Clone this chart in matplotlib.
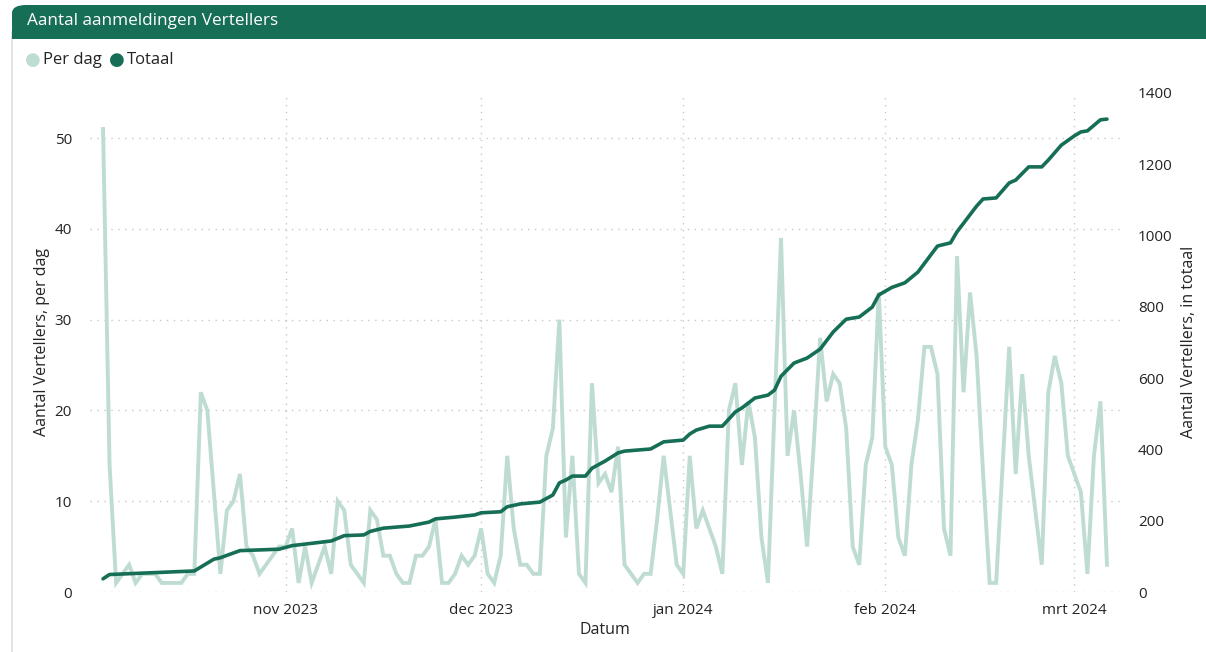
import matplotlib
matplotlib.use("Agg")
import matplotlib.pyplot as plt
import matplotlib.dates as mdates
from matplotlib.patches import FancyBboxPatch, Rectangle
import pandas as pd

plt.rcParams['font.family'] = ['Open Sans', 'DejaVu Sans']

title = "Aantal aanmeldingen Vertellers"
series_names = ["Per dag", "Totaal"]
left_label = "Aantal Vertellers, per dag"
right_label = "Aantal Vertellers, in totaal"
x_label = "Datum"

start_date = "2023-10-04"
per_dag_oct = [51, 14, 1, 2, 3, 1, 2, 2, 2, 1, 1, 1, 1, 2, 2, 22, 20, 11, 2, 9,
               10, 13, 5, 4, 2, 3, 4, 5]
per_dag_nov = [5, 7, 1, 5, 1, 3, 5, 2, 10, 9, 3, 2, 1, 9, 8, 4, 4, 2, 1, 1,
               4, 4, 5, 8, 1, 1, 2, 4, 3, 4]
per_dag_dec = [7, 2, 1, 4, 15, 7, 3, 3, 2, 2, 15, 18, 30, 6, 15, 2, 1, 23, 12, 13,
               11, 16, 3, 2, 1, 2, 2, 8, 15, 9, 3]
per_dag_jan = [2, 15, 7, 9, 7, 5, 2, 20, 23, 14, 21, 17, 6, 1, 20, 39, 15, 20, 13, 5,
               16, 28, 21, 24, 23, 18, 5, 3, 14, 17, 33]
per_dag_feb = [16, 14, 6, 4, 14, 19, 27, 27, 24, 7, 4, 37, 22, 33, 26, 13, 1, 1, 14, 27,
               13, 24, 15, 9, 3, 22, 26, 23, 15]
per_dag_mar = [13, 11, 2, 15, 21, 3]

totaal_dates = ["2023-10-04", "2023-10-05", "2023-10-18", "2023-10-21", "2023-10-22",
                "2023-10-25", "2023-10-31", "2023-11-02", "2023-11-08", "2023-11-10",
                "2023-11-13", "2023-11-14", "2023-11-16", "2023-11-20", "2023-11-23",
                "2023-11-24", "2023-11-27", "2023-11-30", "2023-12-01", "2023-12-04",
                "2023-12-05", "2023-12-07", "2023-12-10", "2023-12-12", "2023-12-13",
                "2023-12-14", "2023-12-15", "2023-12-17", "2023-12-18", "2023-12-20",
                "2023-12-22", "2023-12-23", "2023-12-27", "2023-12-29", "2024-01-01",
                "2024-01-02", "2024-01-03", "2024-01-05", "2024-01-07", "2024-01-09",
                "2024-01-10", "2024-01-12", "2024-01-14", "2024-01-15", "2024-01-16",
                "2024-01-18", "2024-01-20", "2024-01-22", "2024-01-24", "2024-01-26",
                "2024-01-28", "2024-01-30", "2024-01-31", "2024-02-02", "2024-02-04",
                "2024-02-06", "2024-02-09", "2024-02-11", "2024-02-12", "2024-02-15",
                "2024-02-16", "2024-02-18", "2024-02-20", "2024-02-21", "2024-02-23",
                "2024-02-25", "2024-02-26", "2024-02-28", "2024-03-01", "2024-03-02",
                "2024-03-03", "2024-03-05", "2024-03-06"]
totaal_values = [37, 49, 59, 92, 96,
                 116, 120, 130, 143, 158,
                 160, 170, 179, 185, 196,
                 205, 210, 216, 222, 225,
                 239, 247, 252, 272, 306,
                 314, 325, 325, 347, 367,
                 390, 395, 401, 421, 426,
                 443, 454, 465, 465, 505,
                 516, 544, 552, 566, 605,
                 642, 656, 681, 729, 765,
                 771, 799, 833, 854, 867,
                 897, 970, 979, 1010, 1082,
                 1102, 1105, 1147, 1155, 1192,
                 1192, 1211, 1253, 1279, 1290,
                 1293, 1324, 1326]

x_ticks = ["2023-11-01", "2023-12-01", "2024-01-01", "2024-02-01", "2024-03-01"]
x_tick_labels = ["nov 2023", "dec 2023", "jan 2024", "feb 2024", "mrt 2024"]
left_ticks = [0, 10, 20, 30, 40, 50]
right_ticks = [0, 200, 400, 600, 800, 1000, 1200, 1400]

per_dag = per_dag_oct + per_dag_nov + per_dag_dec + per_dag_jan + per_dag_feb + per_dag_mar
days = pd.date_range(start_date, periods=len(per_dag), freq="D")
tot_days = pd.to_datetime(totaal_dates)

C_LIGHT = "#bfdcd3"
C_DARK = "#176e56"
C_TEXT = "#252423"
C_GRID = "#c8c8c8"

W, H = 1206, 652
fig = plt.figure(figsize=(W / 100, H / 100), dpi=100)
fig.patch.set_facecolor("white")

# card border
card = FancyBboxPatch((12 / W, -20 / H), (W + 20) / W, (H - 5) / H,
                      boxstyle="round,pad=0,rounding_size=0.012",
                      transform=fig.transFigure, facecolor="white",
                      edgecolor="#d9d9d9", linewidth=1.0, zorder=-2)
fig.patches.append(card)
header = FancyBboxPatch((12 / W, (H - 39) / H), (W + 20) / W, 34 / H,
                        boxstyle="round,pad=0,rounding_size=0.012",
                        transform=fig.transFigure, facecolor=C_DARK,
                        edgecolor=C_DARK, linewidth=0, zorder=-1)
fig.patches.append(header)
fig.patches.append(Rectangle((12 / W, (H - 39) / H), (W + 20) / W, 10 / H,
                             transform=fig.transFigure, facecolor=C_DARK,
                             edgecolor="none", zorder=-1))
fig.text(27 / W, 1 - 21 / H, title, color="white", fontsize=12.3,
         va="center", ha="left", zorder=3)

# legend
fig.text(33 / W, 1 - 60 / H, "\u25CF", color=C_LIGHT, fontsize=13,
         va="center", ha="center", family="DejaVu Sans")
fig.text(43 / W, 1 - 60 / H, series_names[0], color=C_TEXT, fontsize=12,
         va="center", ha="left")
fig.text(117 / W, 1 - 60 / H, "\u25CF", color=C_DARK, fontsize=13,
         va="center", ha="center", family="DejaVu Sans")
fig.text(127 / W, 1 - 60 / H, series_names[1], color=C_TEXT, fontsize=12,
         va="center", ha="left")

left_px, right_px, top_px, bottom_px = 90, 1120, 92.7, 592
ax = fig.add_axes([left_px / W, 1 - bottom_px / H,
                   (right_px - left_px) / W, (bottom_px - top_px) / H])
ax.set_facecolor("none")
ax2 = ax.twinx()

ax.plot(days, per_dag, color=C_LIGHT, lw=2.8, solid_joinstyle="miter", zorder=2)
ax2.plot(tot_days, totaal_values, color=C_DARK, lw=2.6, solid_joinstyle="round",
         solid_capstyle="round", zorder=3)

ax.set_ylim(0, 55)
ax2.set_ylim(0, 1400)
ax.set_xlim(pd.Timestamp("2023-10-02"), pd.Timestamp("2024-03-08"))

ax.set_yticks(left_ticks)
ax2.set_yticks(right_ticks)
ax.set_xticks(pd.to_datetime(x_ticks))
ax.set_xticklabels(x_tick_labels)

for a in (ax, ax2):
    for s in a.spines.values():
        s.set_visible(False)
    a.tick_params(length=0, labelsize=11, colors=C_TEXT)
ax.tick_params(axis="y", pad=13)
ax2.tick_params(axis="y", pad=13)
ax.tick_params(axis="x", pad=8)

ax.grid(True, axis="both", color=C_GRID, linestyle=(0, (1, 4)), linewidth=1.0)
ax.set_axisbelow(True)

ax.set_ylabel(left_label, fontsize=11.5, color=C_TEXT, labelpad=3)
ax2.set_ylabel(right_label, fontsize=11.5, color=C_TEXT, labelpad=6)
ax.set_xlabel(x_label, fontsize=11.5, color=C_TEXT, labelpad=3)

fig.savefig("out.png", dpi=100, facecolor="white")
